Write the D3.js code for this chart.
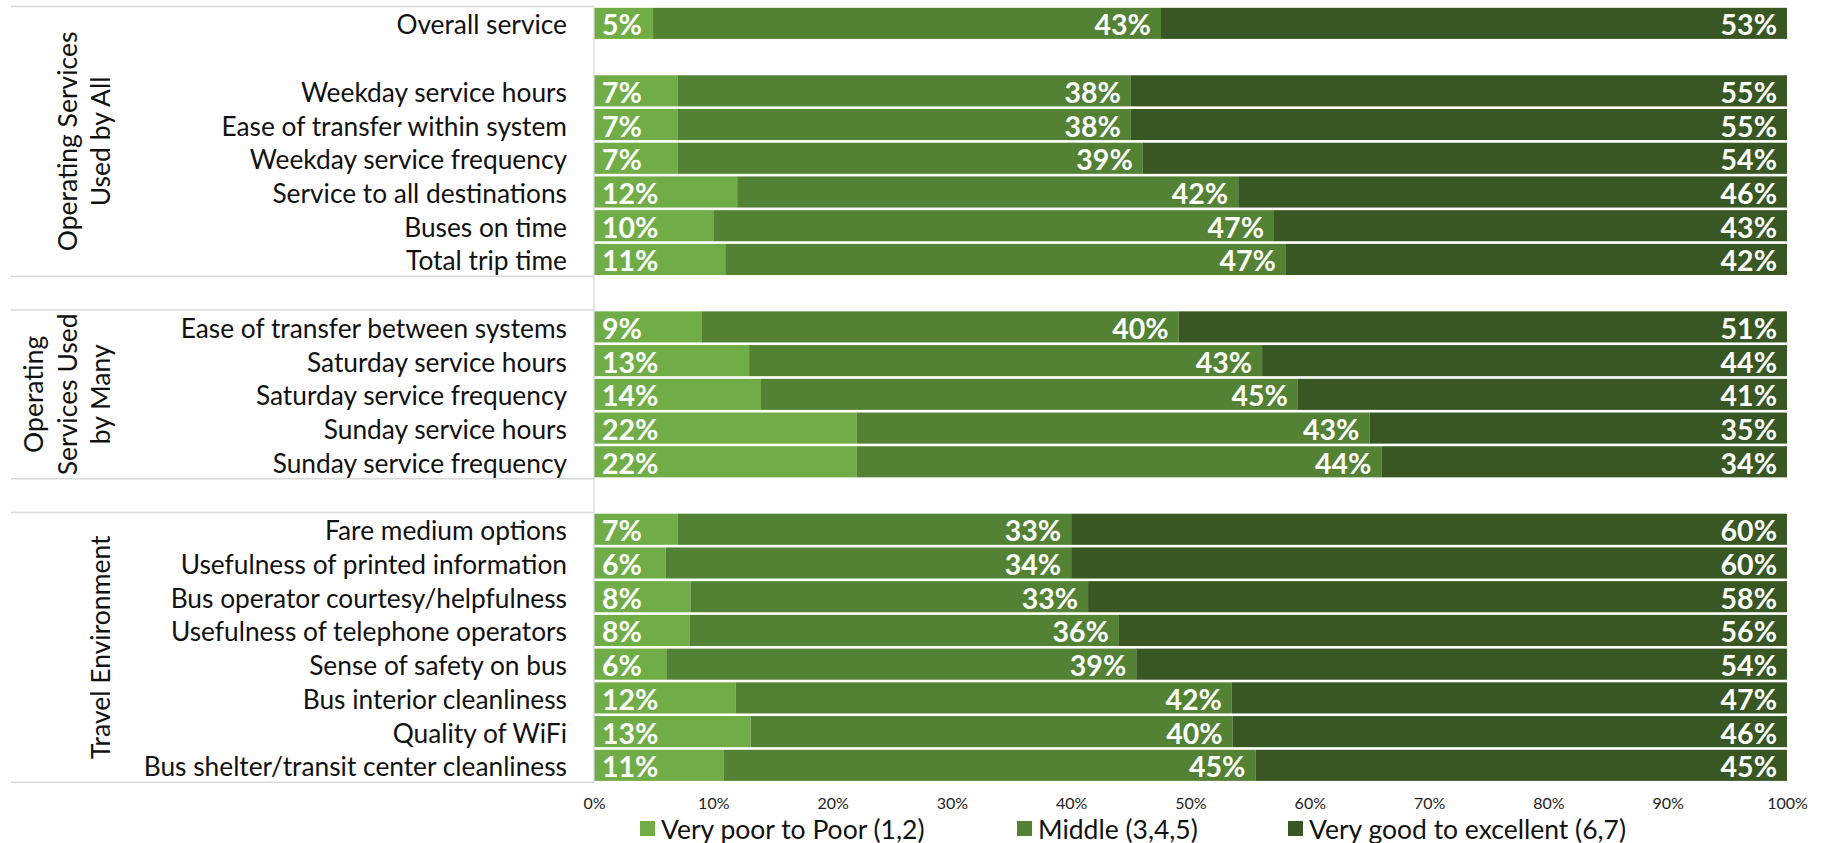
<!DOCTYPE html>
<html>
<head>
<meta charset="utf-8">
<script src="https://cdn.jsdelivr.net/npm/d3@7/dist/d3.min.js"></script>
<style>
  html, body { margin: 0; padding: 0; background: #fff; }
  svg { display: block; }
  text { font-family: Lato, "Open Sans", sans-serif; }
</style>
</head>
<body>
<svg id="chart" width="1822" height="843"></svg>
<script>
// ---------- DATA ----------
const categories = [
  "Overall service",
  "",
  "Weekday service hours",
  "Ease of transfer within system",
  "Weekday service frequency",
  "Service to all destinations",
  "Buses on time",
  "Total trip time",
  "",
  "Ease of transfer between systems",
  "Saturday service hours",
  "Saturday service frequency",
  "Sunday service hours",
  "Sunday service frequency",
  "",
  "Fare medium options",
  "Usefulness of printed information",
  "Bus operator courtesy/helpfulness",
  "Usefulness of telephone operators",
  "Sense of safety on bus",
  "Bus interior cleanliness",
  "Quality of WiFi",
  "Bus shelter/transit center cleanliness"
];
const poor   = [5, null, 7, 7, 7, 12, 10, 11, null, 9, 13, 14, 22, 22, null, 7, 6, 8, 8, 6, 12, 13, 11];
const middle = [43, null, 38, 38, 39, 42, 47, 47, null, 40, 43, 45, 43, 44, null, 33, 34, 33, 36, 39, 42, 40, 45];
const good   = [53, null, 55, 55, 54, 46, 43, 42, null, 51, 44, 41, 35, 34, null, 60, 60, 58, 56, 54, 47, 46, 45];

const seriesKeys  = ["poor", "middle", "good"];
const seriesNames = ["Very poor to Poor (1,2)", "Middle (3,4,5)", "Very good to excellent (6,7)"];
const seriesColors = ["#70AD47", "#548235", "#385723"];

const groupNames = [
  ["Operating Services", "Used by All"],
  ["Operating", "Services Used", "by Many"],
  ["Travel Environment"]
];
const groupFirst = ["Overall service", "Ease of transfer between systems", "Fare medium options"];
const groupLast  = ["Total trip time", "Sunday service frequency", "Bus shelter/transit center cleanliness"];

const xTicks = [0, 0.1, 0.2, 0.3, 0.4, 0.5, 0.6, 0.7, 0.8, 0.9, 1.0];

// ---------- LAYOUT ----------
const svg = d3.select("#chart");
const plotLeft = 594, plotRight = 1787, plotTop = 6.5, plotBottom = 782.2;
const pad = 0.078;

const rows = categories.map((c, i) => ({ idx: i, cat: c, poor: poor[i], middle: middle[i], good: good[i] }));
const dataRows = rows.filter(r => r.cat !== "");

const x = d3.scaleLinear().domain([0, 1]).range([plotLeft, plotRight]);
const y = d3.scaleBand().domain(d3.range(categories.length))
  .range([plotTop, plotBottom]).paddingInner(pad).paddingOuter(pad / 2);

const stacked = d3.stack().keys(seriesKeys).offset(d3.stackOffsetExpand)(dataRows);

// bars
const layers = svg.append("g").selectAll("g").data(stacked).join("g")
  .attr("fill", (d, i) => seriesColors[i]);
layers.selectAll("rect").data(d => d).join("rect")
  .attr("x", d => x(d[0]))
  .attr("width", d => x(d[1]) - x(d[0]))
  .attr("y", d => y(d.data.idx))
  .attr("height", y.bandwidth());

// data labels
const labelFont = 28.5;
stacked.forEach((layer, li) => {
  svg.append("g").selectAll("text").data(layer).join("text")
    .attr("x", d => li === 0 ? x(d[0]) + 8 : x(d[1]) - 10)
    .attr("y", d => y(d.data.idx) + y.bandwidth() / 2 + 1)
    .attr("text-anchor", li === 0 ? "start" : "end")
    .attr("dominant-baseline", "central")
    .attr("fill", "#fff")
    .attr("font-weight", "bold")
    .attr("font-size", labelFont)
    .text(d => d.data[layer.key] + "%");
});

// vertical axis line
svg.append("line")
  .attr("x1", plotLeft).attr("x2", plotLeft)
  .attr("y1", plotTop).attr("y2", plotBottom)
  .attr("stroke", "#d9d9d9").attr("stroke-width", 1.3);

// category labels
svg.append("g").selectAll("text").data(dataRows).join("text")
  .attr("x", 567)
  .attr("y", d => y(d.idx) + y.bandwidth() / 2 + 1)
  .attr("text-anchor", "end")
  .attr("dominant-baseline", "central")
  .attr("fill", "#111")
  .attr("font-size", 26.3)
  .text(d => d.cat);

// group separators and labels
const step = y.step();
groupNames.forEach((lines, gi) => {
  const i0 = categories.indexOf(groupFirst[gi]);
  const i1 = categories.indexOf(groupLast[gi]);
  const yTop = y(i0) - step * pad / 2;
  const yBot = y(i1) + y.bandwidth() + step * pad / 2;
  [yTop, yBot].forEach(yy => {
    svg.append("line")
      .attr("x1", 11).attr("x2", plotLeft)
      .attr("y1", yy).attr("y2", yy)
      .attr("stroke", "#d9d9d9").attr("stroke-width", 1.5);
  });
  const cy = (yTop + yBot) / 2;
  const n = lines.length;
  lines.forEach((ln, li) => {
    const bx = 110 - (n - 1 - li) * 33.5;
    svg.append("text")
      .attr("transform", `translate(${bx},${cy}) rotate(-90)`)
      .attr("text-anchor", "middle")
      .attr("fill", "#111")
      .attr("font-size", 26.5)
      .text(ln);
  });
});

// x axis (tick labels only)
const xAxis = d3.axisBottom(x).tickValues(xTicks).tickFormat(d3.format(".0%")).tickSize(0).tickPadding(0);
const gx = svg.append("g").attr("transform", `translate(0,803)`).call(xAxis);
gx.select(".domain").remove();
gx.selectAll("text")
  .attr("y", 0).attr("dy", "0.36em")
  .attr("fill", "#222")
  .style("font-family", "Lato, sans-serif")
  .style("font-size", "16px");

// legend
const legendX = [640, 1017, 1288];
const lg = svg.append("g").selectAll("g").data(seriesNames).join("g")
  .attr("transform", (d, i) => `translate(${legendX[i]},821)`);
lg.append("rect").attr("width", 15).attr("height", 15)
  .attr("fill", (d, i) => seriesColors[i]);
lg.append("text").attr("x", 21).attr("y", 7.5)
  .attr("dominant-baseline", "central")
  .attr("fill", "#111")
  .attr("font-size", 26.5)
  .text(d => d);
</script>
</body>
</html>
